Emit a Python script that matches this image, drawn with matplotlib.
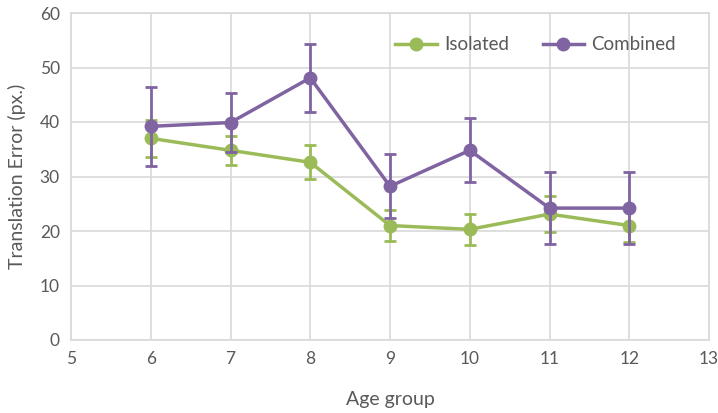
import matplotlib.pyplot as plt

plt.rcParams['font.family'] = ['Lato', 'DejaVu Sans']

ages = [6, 7, 8, 9, 10, 11, 12]
isolated = [37.0, 34.8, 32.6, 21.0, 20.3, 23.1, 21.0]
isolated_err = [3.4, 2.6, 3.1, 2.9, 2.9, 3.3, 3.0]
combined = [39.2, 39.9, 48.1, 28.2, 34.8, 24.2, 24.2]
combined_err = [7.2, 5.4, 6.2, 5.9, 5.9, 6.6, 6.6]

green = '#9BBB59'
purple = '#8064A2'
grid_c = '#D9D9D9'
text_c = '#595959'

fig = plt.figure(figsize=(7.18, 4.13), dpi=100)
ax = fig.add_axes([71 / 718, 1 - 340 / 413, (709 - 71) / 718, (340 - 13) / 413])

ax.errorbar(ages, isolated, yerr=isolated_err, color=green, lw=2.5, marker='o', ms=9,
            capsize=4, capthick=2, elinewidth=2, label='Isolated', zorder=3)
ax.errorbar(ages, combined, yerr=combined_err, color=purple, lw=2.5, marker='o', ms=9,
            capsize=4, capthick=2, elinewidth=2, label='Combined', zorder=4)

ax.set_xlim(5, 13)
ax.set_ylim(0, 60)
ax.set_xticks(range(5, 14))
ax.set_yticks(range(0, 61, 10))
ax.grid(True, color=grid_c, lw=1.2)
ax.set_axisbelow(True)
for s in ax.spines.values():
    s.set_color(grid_c)
    s.set_linewidth(1.2)
ax.tick_params(length=0, labelsize=12.5, colors=text_c, pad=8)
ax.set_xlabel('Age group', fontsize=14, color=text_c, labelpad=17)
ax.set_ylabel('Translation Error (px.)', fontsize=14, color=text_c, labelpad=10)

handles, labels = ax.get_legend_handles_labels()
handles = [h[0] for h in handles]
ax.legend(handles, labels, loc='upper right', bbox_to_anchor=(0.975, 0.98), ncol=2, frameon=False,
          fontsize=13.5, labelcolor=text_c, handlelength=2.2, columnspacing=1.8, handletextpad=0.4)

fig.savefig('out.png', dpi=100)
